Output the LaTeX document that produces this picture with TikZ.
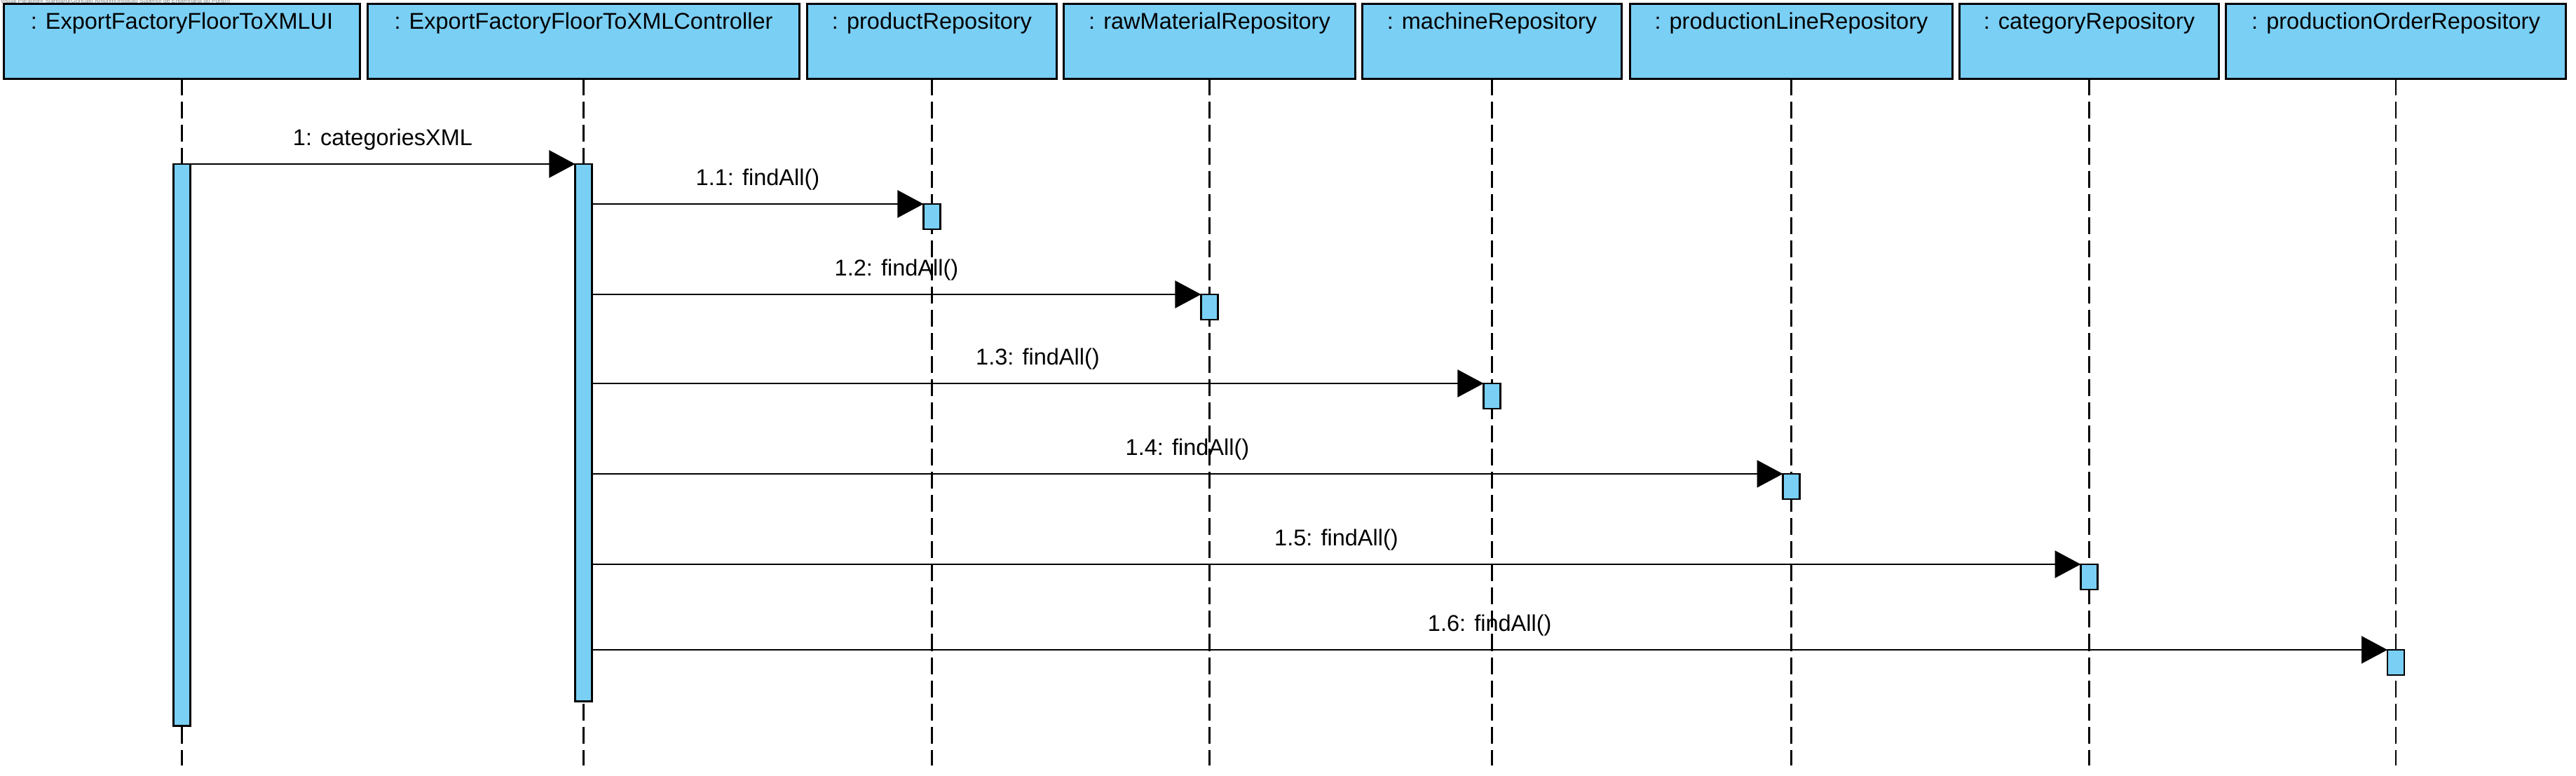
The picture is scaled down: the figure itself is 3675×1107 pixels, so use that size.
\documentclass[tikz,border=0pt]{standalone}
\usepackage{fontspec}
\setmainfont{Liberation Sans}
\usetikzlibrary{arrows.meta}
\definecolor{vpblue}{RGB}{122,207,245}
\tikzset{
  objbox/.style={draw, fill=vpblue, line width=0.03cm, inner sep=0pt, outer sep=0pt, minimum height=1.06cm},
  act/.style={draw, fill=vpblue, line width=0.025cm, inner sep=0pt, outer sep=0pt, minimum width=0.24cm, anchor=north},
  lifeline/.style={line width=0.026cm, dash pattern=on 0.24cm off 0.09cm},
  msg/.style={line width=0.022cm, -{Triangle[length=0.37cm,width=0.39cm]}},
  msglabel/.style={midway, anchor=base, yshift=0.26cm, inner sep=0pt}
}

\begin{document}
\begin{tikzpicture}[x=0.01cm, y=-0.01cm, font=\fontsize{9.25}{11}\selectfont]
\useasboundingbox (0,0) rectangle (3675,1107);
\node[anchor=base west, inner sep=0pt, text=gray, font=\fontsize{2.4}{3}\selectfont] (vpmark) at (0,5) {Visual Paradigm Standard(Gonçalo Amorim(Instituto Superior de Engenharia do Porto))};

% objects
\node[objbox, minimum width=5.07cm] (ui) at (259.5,59) {};
\node[objbox, minimum width=6.15cm] (ctrl) at (832.5,59) {};
\node[objbox, minimum width=3.55cm] (prod) at (1329.5,59) {};
\node[objbox, minimum width=4.15cm] (raw) at (1725.5,59) {};
\node[objbox, minimum width=3.69cm] (mach) at (2128.5,59) {};
\node[objbox, minimum width=4.59cm] (pline) at (2555.5,59) {};
\node[objbox, minimum width=3.69cm] (cat) at (2980.5,59) {};
\node[objbox, minimum width=4.84cm] (porder) at (3418,59) {};
\node[anchor=base] (uitext) at ([yshift=-0.36cm]ui.north) {: ExportFactoryFloorToXMLUI};
\node[anchor=base] (ctrltext) at ([yshift=-0.36cm]ctrl.north) {: ExportFactoryFloorToXMLController};
\node[anchor=base] (prodtext) at ([yshift=-0.36cm]prod.north) {: productRepository};
\node[anchor=base] (rawtext) at ([yshift=-0.36cm]raw.north) {: rawMaterialRepository};
\node[anchor=base] (machtext) at ([yshift=-0.36cm]mach.north) {: machineRepository};
\node[anchor=base] (plinetext) at ([yshift=-0.36cm]pline.north) {: productionLineRepository};
\node[anchor=base] (cattext) at ([yshift=-0.36cm]cat.north) {: categoryRepository};
\node[anchor=base] (pordertext) at ([yshift=-0.36cm]porder.north) {: productionOrderRepository};

% lifelines
\coordinate (bottom) at (0,1092);
\draw[lifeline] (ui.south) -- (ui.south |- bottom);
\draw[lifeline] (ctrl.south) -- (ctrl.south |- bottom);
\draw[lifeline] (prod.south) -- (prod.south |- bottom);
\draw[lifeline] (raw.south) -- (raw.south |- bottom);
\draw[lifeline] (mach.south) -- (mach.south |- bottom);
\draw[lifeline] (pline.south) -- (pline.south |- bottom);
\draw[lifeline] (cat.south) -- (cat.south |- bottom);
\draw[lifeline] (porder.south) -- (porder.south |- bottom);

% activations
\node[act, minimum height=8.01cm] (uiact) at (259.5,234) {};
\node[act, minimum height=7.66cm] (ctrlact) at (832.5,234) {};
\node[act, minimum height=0.36cm] (prodact) at (1329.5,291) {};
\node[act, minimum height=0.36cm] (rawact) at (1725.5,420) {};
\node[act, minimum height=0.36cm] (machact) at (2128.5,547) {};
\node[act, minimum height=0.36cm] (plineact) at (2555.5,676) {};
\node[act, minimum height=0.36cm] (catact) at (2980.5,805) {};
\node[act, minimum height=0.36cm] (porderact) at (3418,927) {};

% messages
\draw[msg] (uiact.north east) -- (ctrlact.north west) node[msglabel] {1: categoriesXML};
\draw[msg] (ctrlact.east |- prodact.north) -- (prodact.north west) node[msglabel] {1.1: findAll()};
\draw[msg] (ctrlact.east |- rawact.north) -- (rawact.north west) node[msglabel] {1.2: findAll()};
\draw[msg] (ctrlact.east |- machact.north) -- (machact.north west) node[msglabel] {1.3: findAll()};
\draw[msg] (ctrlact.east |- plineact.north) -- (plineact.north west) node[msglabel] {1.4: findAll()};
\draw[msg] (ctrlact.east |- catact.north) -- (catact.north west) node[msglabel] {1.5: findAll()};
\draw[msg] (ctrlact.east |- porderact.north) -- (porderact.north west) node[msglabel] {1.6: findAll()};
\end{tikzpicture}
\end{document}
